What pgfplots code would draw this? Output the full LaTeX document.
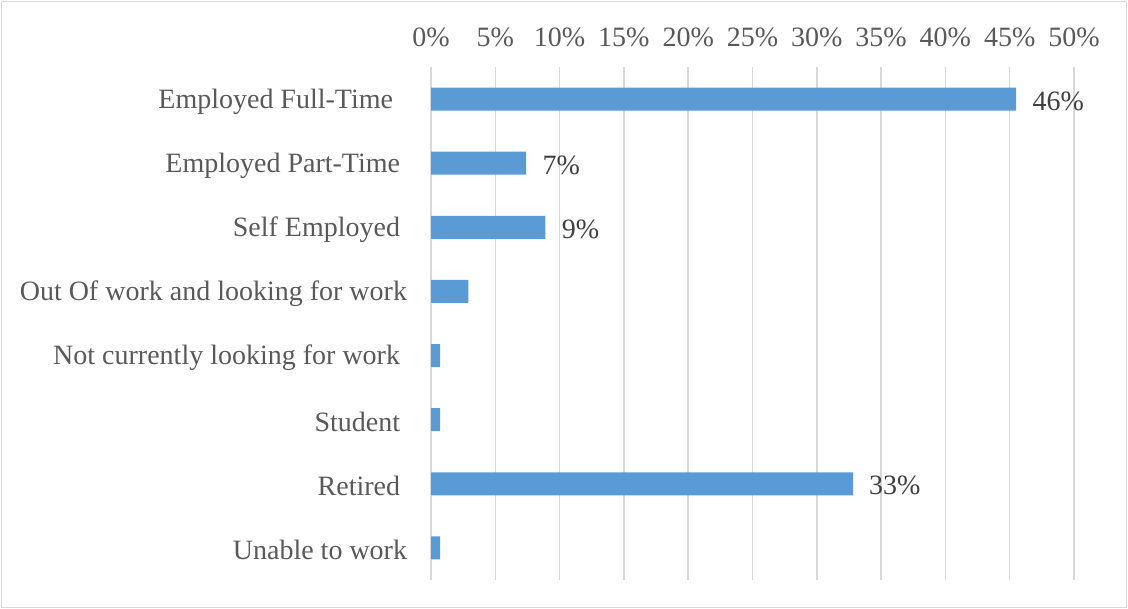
\documentclass[border=0pt]{standalone}
\usepackage{fontspec}
\setmainfont{Liberation Serif}
\usepackage{pgfplots}
\pgfplotsset{compat=1.18}
\definecolor{barblue}{HTML}{5B9BD5}
\definecolor{gridgray}{HTML}{D9D9D9}
\definecolor{ticktext}{HTML}{595959}
\definecolor{valtext}{HTML}{404040}
\begin{document}
\begin{tikzpicture}
\path[use as bounding box] (0,0) rectangle (564pt,304.5pt);
\draw[gridgray, line width=0.6pt] (0.6pt,0.6pt) rectangle (563.4pt,303.9pt);
\begin{axis}[
  at={(215.5pt,14.5pt)}, anchor=south west,
  scale only axis, width=321.5pt, height=256.5pt,
  xbar, bar width=11.5pt,
  xmin=0, xmax=50,
  ymin=-0.5, ymax=7.5, y dir=reverse,
  xtick={0,5,...,50},
  xticklabel pos=upper,
  xticklabel={\pgfmathprintnumber{\tick}\%},
  /pgf/number format/assume math mode=true,
  xmajorgrids, grid style={gridgray, line width=0.75pt},
  axis line style={draw=none},
  tick style={draw=none},
  ytick={0,...,7},
  yticklabels={Employed Full-Time\hspace*{7pt},Employed Part-Time\hspace*{3.5pt},Self Employed\hspace*{3.5pt},Out Of work and looking for work,Not currently looking for work\hspace*{3.5pt},Student\hspace*{3.5pt},Retired\hspace*{3.5pt},Unable to work},
  yticklabel style={anchor=east, inner sep=0pt, xshift=-7.5pt, yshift=-1.2pt, font=\fontsize{14}{16}\selectfont, text=ticktext},
  xticklabel style={font=\fontsize{14}{16}\selectfont, text=ticktext, inner sep=0pt, yshift=10pt},
  point meta=explicit symbolic,
  nodes near coords,
  nodes near coords style={anchor=west, xshift=8pt, yshift=-1pt, font=\fontsize{14}{16}\selectfont, text=valtext, inner sep=0pt},
]
\addplot[fill=barblue, draw=none] coordinates {
  (45.5,0) [46\%]
  (7.4,1) [7\%]
  (8.9,2) [9\%]
  (2.9,3) [{}]
  (0.7,4) [{}]
  (0.7,5) [{}]
  (32.8,6) [33\%]
  (0.7,7) [{}]
};
\end{axis}
\end{tikzpicture}
\end{document}
